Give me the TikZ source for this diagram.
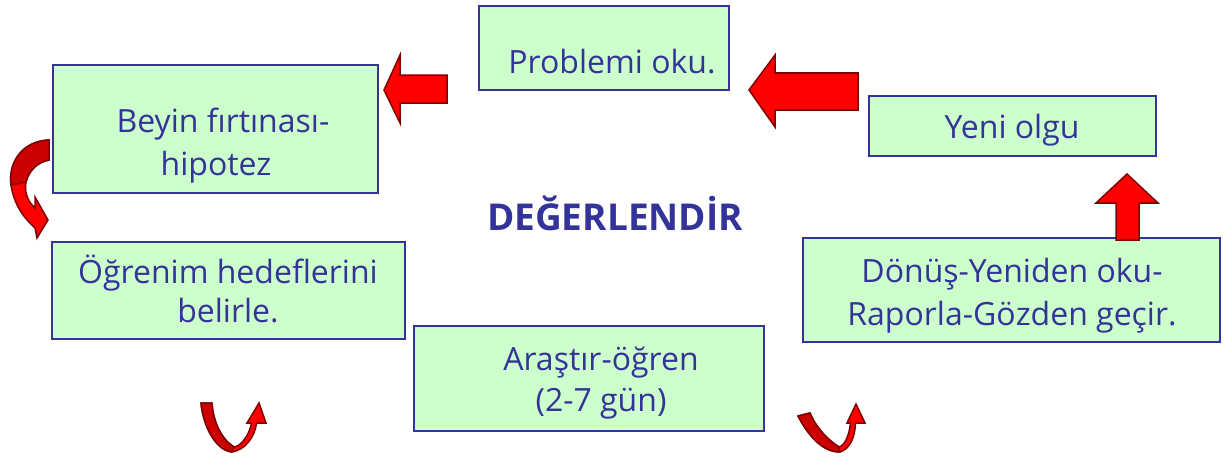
\documentclass[tikz,border=0pt]{standalone}
\usepackage{fontspec}
\setmainfont{Open Sans}
\definecolor{bluetext}{RGB}{51,51,153}
\definecolor{boxfill}{RGB}{204,255,204}
\definecolor{arrred}{RGB}{255,0,0}
\definecolor{arrdark}{RGB}{204,0,0}
\definecolor{arredge}{RGB}{128,0,0}
\begin{document}
\begin{tikzpicture}[x=1pt,y=-1pt,
  box/.style={draw=bluetext, fill=boxfill, line width=2pt, inner sep=0pt},
  txt/.style={text=bluetext, font=\fontsize{32}{40}\selectfont, anchor=base, inner sep=0pt},
  title/.style={text=bluetext, font=\bfseries\fontsize{37}{42}\selectfont, anchor=base, inner sep=0pt},
  fat/.style={fill=arrred, draw=arredge, line width=1.5pt, line join=miter},
  back/.style={fill=arrdark, draw=arredge, line width=1.5pt, line join=round}]
\useasboundingbox (0,0) rectangle (1223,460);

% boxes
\node[box, minimum width=250, minimum height=84] (prob) at (604,48) {};
\node[box, minimum width=325, minimum height=128] (beyin) at (215.5,129) {};
\node[box, minimum width=287, minimum height=60] (yeni) at (1012.5,126) {};
\node[box, minimum width=353, minimum height=97] (ogren) at (228.5,290.5) {};
\node[box, minimum width=350, minimum height=105] (arast) at (589,378.5) {};
\node[box, minimum width=417, minimum height=104] (donus) at (1011.5,290) {};

% texts
\node[txt] (probt) at (612,74) {Problemi oku.};
\node[txt] (beyint1) at (223,132) {Beyin fırtınası-};
\node[txt] (beyint2) at (216,175) {hipotez};
\node[txt] (yenit) at (1012,138) {Yeni olgu};
\node[txt] (ogrent1) at (228,283) {Öğrenim hedeflerini};
\node[txt] (ogrent2) at (228,322) {belirle.};
\node[txt] (arastt1) at (601,370) {Araştır-öğren};
\node[txt] (arastt2) at (601,411) {(2-7 gün)};
\node[txt] (donust1) at (1012,282) {Dönüş-Yeniden oku-};
\node[txt] (donust2) at (1012,325) {Raporla-Gözden geçir.};
\node[title] (deger) at (615,230) {DEĞERLENDİR};

% block arrows
\draw[fat] (749,90) -- (775,55) -- (775,73) -- (858,73) -- (858,110) -- (775,110) -- (775,127) -- cycle;
\draw[fat] (384,90) -- (400,55) -- (400,75) -- (447,75) -- (447,103) -- (400,103) -- (400,123) -- cycle;
\draw[fat] (1127,174) -- (1158,203) -- (1139,203) -- (1139,240) -- (1116,240) -- (1116,203) -- (1096,203) -- cycle;

% curved arrow at left
\draw[fat] (49,140) .. controls (22,141) and (8,163) .. (11,185) .. controls (14,205) and (24,218) .. (35,228) -- (37,238) -- (48,220) -- (35,197) -- (35,208) .. controls (28,202) and (24,192) .. (26,182) .. controls (29,170) and (38,162) .. (49,160) -- cycle;
\draw[back] (49,140) .. controls (22,141) and (8,163) .. (11,185) -- (26,182) .. controls (29,170) and (38,162) .. (49,160) -- cycle;

% U arrow left
\draw[fat] (201,403) .. controls (203,425) and (215,450) .. (232,452) .. controls (245,450) and (255,437) .. (256.5,423) -- (266,423) -- (259,403) -- (247,423) -- (251.5,423) .. controls (249,436) and (241,446) .. (234,447) .. controls (222,440) and (213,422) .. (212,403) -- cycle;
\draw[back] (201,403) .. controls (203,425) and (215,450) .. (232,452) -- (234,447) .. controls (222,440) and (213,422) .. (212,403) -- cycle;

% U arrow right
\draw[fat] (798,416) .. controls (808,435) and (822,452) .. (840,452) .. controls (850,449) and (855,437) .. (855.5,423) -- (865,423) -- (856,404) -- (847,423) -- (850.5,423) .. controls (849,436) and (845,445) .. (839,447) .. controls (829,441) and (816,428) .. (810,413) -- cycle;
\draw[back] (798,416) .. controls (808,435) and (822,452) .. (840,452) -- (839,447) .. controls (829,441) and (816,428) .. (810,413) -- cycle;
\end{tikzpicture}
\end{document}
